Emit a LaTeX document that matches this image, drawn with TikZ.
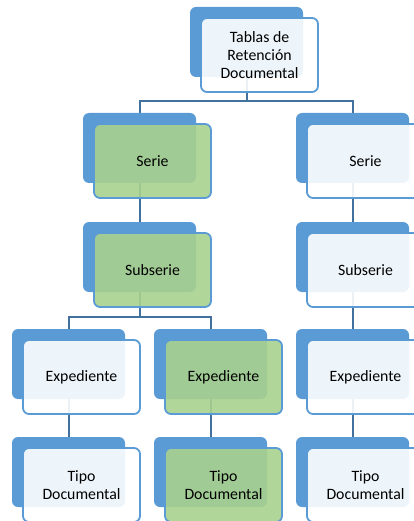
\documentclass[tikz,border=0pt]{standalone}
\usepackage{fontspec}
\setmainfont{Carlito}
\usetikzlibrary{backgrounds}
\definecolor{backblue}{HTML}{5B9BD5}
\definecolor{connblue}{HTML}{41719C}
\definecolor{greenfill}{HTML}{A9D18E}
\tikzset{
  backbox/.style={rectangle, rounded corners=6pt, fill=backblue, draw=none,
    minimum width=113pt, minimum height=70pt, inner sep=0pt, outer sep=0pt, anchor=north west},
  frontbox/.style={rectangle, rounded corners=6pt, fill=#1, fill opacity=0.9, text opacity=1,
    draw=backblue, line width=1.8pt,
    minimum width=117pt, minimum height=74pt, inner sep=0pt, outer sep=0pt, anchor=north west,
    align=center, font=\fontsize{15.8}{18}\selectfont},
  conn/.style={draw=connblue, line width=2pt},
}
\newcommand\smbox[5]{%
  \node[backbox] (#1b) at (#2,-#3) {};
  \node[frontbox=#4] (#1) at (#2+11,-#3-11) {#5};
}
\begin{document}
\begin{tikzpicture}[x=1pt,y=1pt]
\useasboundingbox (0,0) rectangle (414,-521);
\clip (0,0) rectangle (414,-521);
% boxes
\smbox{T}{190}{7}{white}{Tablas de\\Retención\\Documental}
\smbox{SA}{83}{113}{greenfill}{Serie}
\smbox{SB}{296}{113}{white}{Serie}
\smbox{UA}{83}{222}{greenfill}{Subserie}
\smbox{UB}{296}{222}{white}{Subserie}
\smbox{EA}{12}{329}{white}{Expediente}
\smbox{EB}{154}{329}{greenfill}{Expediente}
\smbox{EC}{296}{329}{white}{Expediente}
\smbox{DA}{12}{437}{white}{Tipo\\Documental}
\smbox{DB}{154}{437}{greenfill}{Tipo\\Documental}
\smbox{DC}{296}{437}{white}{Tipo\\Documental}
% connectors under the boxes
\begin{scope}[on background layer]
\draw[conn] (Tb.south) -- ++(0,-24) -| (SAb.north);
\draw[conn] (Tb.south) -- ++(0,-24) -| (SBb.north);
\draw[conn] (SAb.south) -- (UAb.north);
\draw[conn] (SBb.south) -- (UBb.north);
\draw[conn] (UAb.south) -- ++(0,-25) -| (EAb.north);
\draw[conn] (UAb.south) -- ++(0,-25) -| (EBb.north);
\draw[conn] (UBb.south) -- (ECb.north);
\draw[conn] (EAb.south) -- (DAb.north);
\draw[conn] (EBb.south) -- (DBb.north);
\draw[conn] (ECb.south) -- (DCb.north);
\end{scope}
\end{tikzpicture}
\end{document}
